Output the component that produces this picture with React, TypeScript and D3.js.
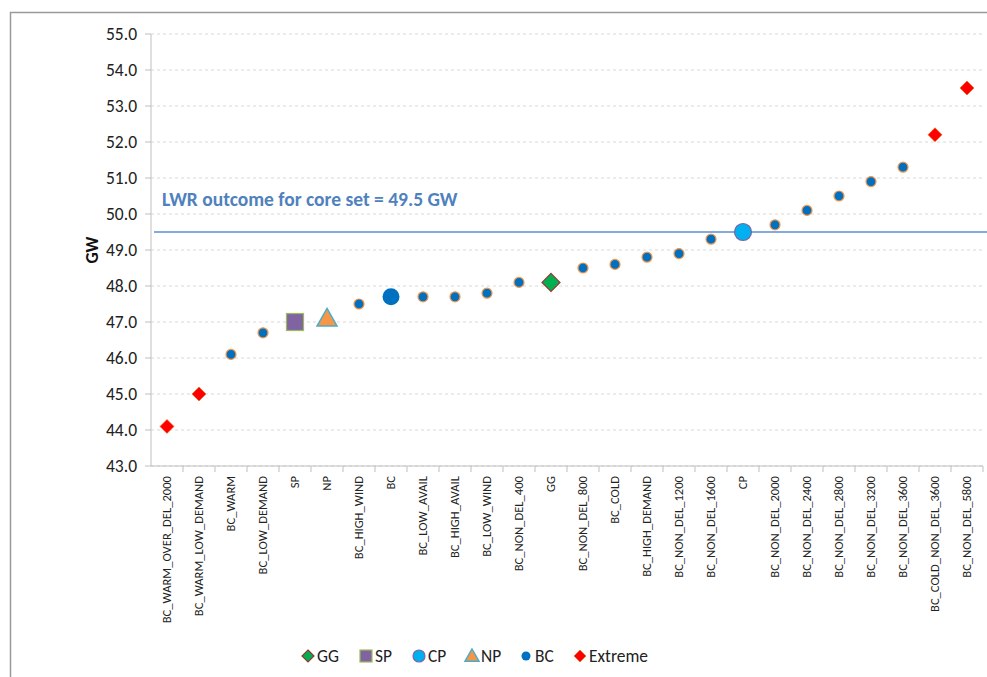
import React from "react";
import * as d3 from "d3";

const categories = [
  "BC_WARM_OVER_DEL_2000", "BC_WARM_LOW_DEMAND", "BC_WARM", "BC_LOW_DEMAND", "SP", "NP",
  "BC_HIGH_WIND", "BC", "BC_LOW_AVAIL", "BC_HIGH_AVAIL", "BC_LOW_WIND", "BC_NON_DEL_400",
  "GG", "BC_NON_DEL_800", "BC_COLD", "BC_HIGH_DEMAND", "BC_NON_DEL_1200", "BC_NON_DEL_1600",
  "CP", "BC_NON_DEL_2000", "BC_NON_DEL_2400", "BC_NON_DEL_2800", "BC_NON_DEL_3200",
  "BC_NON_DEL_3600", "BC_COLD_NON_DEL_3600", "BC_NON_DEL_5800",
];
const values = [
  44.1, 45.0, 46.1, 46.7, 47.0, 47.1, 47.5, 47.7, 47.7, 47.7, 47.8, 48.1, 48.1, 48.5, 48.6,
  48.8, 48.9, 49.3, 49.5, 49.7, 50.1, 50.5, 50.9, 51.3, 52.2, 53.5,
];
const groups = [
  "Extreme", "Extreme", "BCs", "BCs", "SP", "NP", "BCs", "BC", "BCs", "BCs", "BCs", "BCs",
  "GG", "BCs", "BCs", "BCs", "BCs", "BCs", "CP", "BCs", "BCs", "BCs", "BCs", "BCs",
  "Extreme", "Extreme",
];
const yTicks = [43, 44, 45, 46, 47, 48, 49, 50, 51, 52, 53, 54, 55];
const coreValue = 49.5;
const coreLabel = "LWR outcome for core set = 49.5 GW";
const legendItems = ["GG", "SP", "CP", "NP", "BC", "Extreme"];

const FONT = "Carlito, Calibri, 'Liberation Sans', Arial, sans-serif";

function Marker({ g, x, y, legend = false }: { g: string; x: number; y: number; legend?: boolean }) {
  if (g === "Extreme") {
    const r = legend ? 6 : 7;
    return <path d={`M${x},${y - r}L${x + r},${y}L${x},${y + r}L${x - r},${y}Z`} fill="#FF0000" stroke="#E46C0A" strokeWidth={0.6} />;
  }
  if (g === "GG") {
    const r = legend ? 6 : 9;
    return <path d={`M${x},${y - r}L${x + r},${y}L${x},${y + r}L${x - r},${y}Z`} fill="#00B050" stroke="#953735" strokeWidth={1.2} />;
  }
  if (g === "SP") {
    const h = legend ? 6 : 8.5;
    return <rect x={x - h} y={y - h} width={2 * h} height={2 * h} fill="#8064A2" stroke="#9BBB59" strokeWidth={1.2} />;
  }
  if (g === "NP") {
    const r = legend ? 7 : 10;
    return <path d={`M${x},${y - r}L${x + r},${y + r * 0.75}L${x - r},${y + r * 0.75}Z`} fill="#F79646" stroke="#4BACC6" strokeWidth={1.5} />;
  }
  if (g === "CP") {
    return <circle cx={x} cy={y} r={legend ? 6 : 8.5} fill="#00B0F0" stroke="#8064A2" strokeWidth={1.2} />;
  }
  if (g === "BC") {
    return <circle cx={x} cy={y} r={legend ? 4.5 : 8.5} fill="#0070C0" />;
  }
  return <circle cx={x} cy={y} r={5} fill="#0070C0" stroke="#F79646" strokeWidth={1.2} />;
}

export default function App() {
  const W = 987, H = 677;
  const left = 151, right = 983, top = 34, bottom = 466;
  const x = d3.scaleBand<string>().domain(categories).range([left, right]);
  const y = d3.scaleLinear().domain([43, 55]).range([bottom, top]);
  const bw = x.bandwidth();

  const legendX = [308, 366, 419, 472, 526, 580];
  const legendY = 656;

  return (
    <svg width={W} height={H} style={{ position: "absolute", left: 0, top: 0, fontFamily: FONT }}>
      <rect x={0} y={0} width={W} height={H} fill="#fff" />
      <rect x={10.5} y={12.5} width={W} height={H} fill="#fff" stroke="#9A9A9A" strokeWidth={1.5} />
      {yTicks.map((t) => (
        <line key={"g" + t} x1={left} x2={right} y1={y(t)} y2={y(t)} stroke="#D9D9D9" strokeDasharray="3,3" strokeWidth={1} />
      ))}
      <line x1={left} x2={left} y1={top} y2={bottom} stroke="#BFBFBF" strokeWidth={1} />
      {yTicks.map((t) => (
        <g key={"yt" + t}>
          <line x1={left - 6} x2={left} y1={y(t)} y2={y(t)} stroke="#BFBFBF" />
          <text x={137} y={y(t)} dy="0.35em" textAnchor="end" fontSize={17.5} fill="#222">
            {d3.format(".1f")(t)}
          </text>
        </g>
      ))}
      <text transform={`translate(92,250) rotate(-90)`} textAnchor="middle" fontSize={17.5} fontWeight="bold" fill="#111" dy="0.35em">
        GW
      </text>
      <line x1={left} x2={right} y1={bottom} y2={bottom} stroke="#BFBFBF" />
      {categories.map((c, i) => (
        <line key={"xt" + i} x1={(x(c) as number) + bw} x2={(x(c) as number) + bw} y1={bottom} y2={bottom + 6} stroke="#BFBFBF" />
      ))}
      {categories.map((c) => (
        <text key={"xl" + c} transform={`translate(${(x(c) as number) + bw / 2},${bottom + 10}) rotate(-90)`} textAnchor="end" dy="0.35em" fontSize={12.6} fill="#222">
          {c}
        </text>
      ))}
      <line x1={left + 3} x2={W} y1={y(coreValue)} y2={y(coreValue)} stroke="#5B8FD0" strokeWidth={1.5} />
      <text x={162} y={y(coreValue) - 26} fontSize={19.5} fontWeight="bold" fill="#4F81BD">
        {coreLabel}
      </text>
      {categories.map((c, i) => (
        <Marker key={"m" + i} g={groups[i]} x={(x(c) as number) + bw / 2} y={y(values[i])} />
      ))}
      {legendItems.map((g, i) => (
        <g key={"lg" + g}>
          <Marker g={g} x={legendX[i]} y={legendY} legend />
          <text x={legendX[i] + 9} y={legendY} dy="0.35em" fontSize={17.4} fill="#222">{g}</text>
        </g>
      ))}
    </svg>
  );
}
